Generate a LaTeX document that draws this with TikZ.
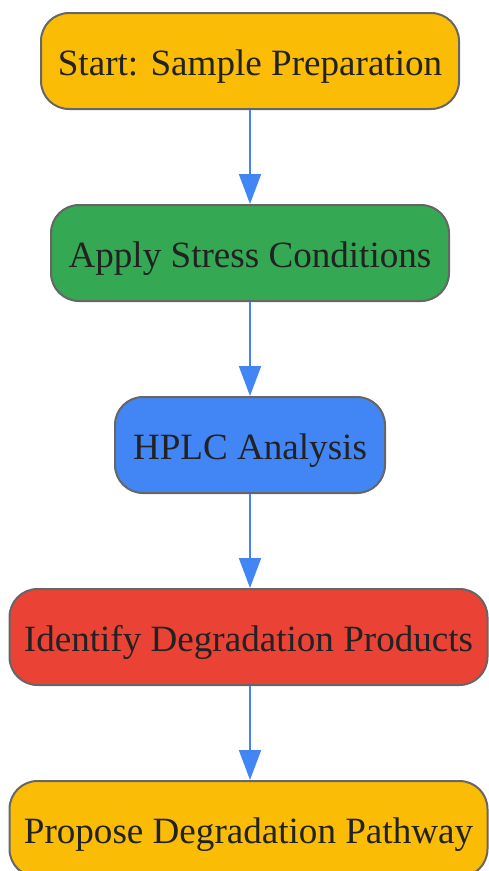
\documentclass[tikz,border=0pt]{standalone}
\usepackage{fontspec}
\setmainfont{Liberation Serif}
\usetikzlibrary{arrows.meta}
\definecolor{gyellow}{HTML}{FBBC05}
\definecolor{ggreen}{HTML}{34A853}
\definecolor{gblue}{HTML}{4285F4}
\definecolor{gred}{HTML}{EA4335}
\definecolor{bordergray}{HTML}{666666}
\definecolor{txt}{HTML}{222222}
\begin{document}
\begin{tikzpicture}[x=1pt,y=-1pt,
  stepbox/.style={draw=bordergray, line width=2pt, rounded corners=28pt,
    minimum height=96pt, inner sep=0pt, text=txt, text height=28pt, text depth=0pt,
    font=\fontsize{37.1}{44}\selectfont},
  flow/.style={draw=gblue, line width=2pt, -{Triangle[width=22pt,length=30pt]}, fill=gblue}
]
\useasboundingbox (0,0) rectangle (488,871);
\node[stepbox, fill=gyellow, minimum width=418pt] (s1) at (250,61) {Start: Sample Preparation};
\node[stepbox, fill=ggreen, minimum width=398pt] (s2) at (250,253) {Apply Stress Conditions};
\node[stepbox, fill=gblue, minimum width=270pt] (s3) at (250,445) {HPLC Analysis};
\node[stepbox, fill=gred, minimum width=478pt] (s4) at (248.5,637) {Identify Degradation Products};
\node[stepbox, fill=gyellow, minimum width=478pt] (s5) at (248.5,829) {Propose Degradation Pathway};
\draw[flow] (s1.south -| s3) -- (s2.north -| s3);
\draw[flow] (s2.south -| s3) -- (s3.north);
\draw[flow] (s3.south) -- (s4.north -| s3);
\draw[flow] (s4.south -| s3) -- (s5.north -| s3);
\end{tikzpicture}
\end{document}
